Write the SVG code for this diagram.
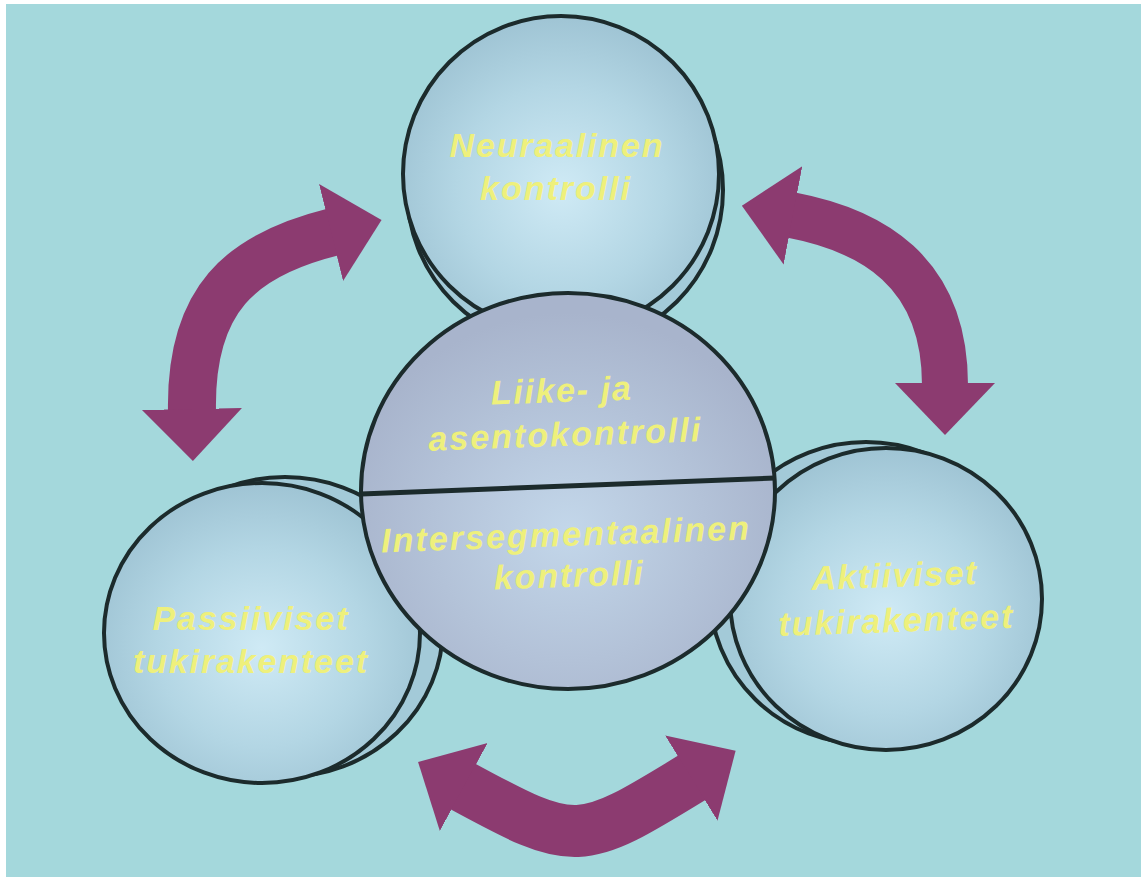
<svg xmlns="http://www.w3.org/2000/svg" width="1141" height="877" viewBox="0 0 1141 877">
<defs>
<style>
.lbl{font-family:"Liberation Sans",Arial,sans-serif;font-weight:bold;font-style:italic;font-size:34px;fill:#eef07c;text-anchor:middle}
.disc{stroke:#1c2b2c;stroke-width:4}
.front{fill:url(#gBlue)}
.back{fill:#a3cad8}
.arrow{fill:none;stroke:#8c3b70;marker-start:url(#head);marker-end:url(#head)}
</style>
<radialGradient id="gBlue" cx="0.5" cy="0.55" r="0.55">
<stop offset="0" stop-color="#cfeaf5"/>
<stop offset="0.6" stop-color="#b3d6e4"/>
<stop offset="1" stop-color="#9fc4d4"/>
</radialGradient>
<radialGradient id="gCenter" cx="0.5" cy="0.6" r="0.55">
<stop offset="0" stop-color="#c3d7ea"/>
<stop offset="0.6" stop-color="#b3c2d8"/>
<stop offset="1" stop-color="#a8b4cc"/>
</radialGradient>
<marker id="head" markerUnits="userSpaceOnUse" markerWidth="62" markerHeight="110" viewBox="-2 -55 62 110" refX="0" refY="0" orient="auto-start-reverse">
<path d="M-2,-50 L50,0 L-2,50 Z" fill="#8c3b70"/>
</marker>
</defs>
<rect x="0" y="0" width="1141" height="877" fill="#ffffff"/>
<rect x="6" y="4" width="1135" height="873" fill="#a4d8dc"/>

<g id="connectors">
<path class="arrow" stroke-width="48" d="M192,411 C190,300 240,255 333,232"/>
<path class="arrow" stroke-width="46" d="M791,215 C870,230 945,270 945,385"/>
<path class="arrow" stroke-width="52" d="M462,786 C576,848 579,847 693,777"/>
</g>

<g id="node-neuraalinen">
<ellipse class="disc back" cx="565" cy="190" rx="158" ry="158"/>
<ellipse class="disc front" cx="561" cy="174" rx="158" ry="158"/>
<text class="lbl" x="556" y="157" textLength="213">Neuraalinen</text>
<text class="lbl" x="555" y="200" textLength="150">kontrolli</text>
</g>

<g id="node-passiiviset">
<ellipse class="disc back" cx="285" cy="627" rx="158" ry="150"/>
<ellipse class="disc front" cx="262" cy="633" rx="158" ry="150"/>
<text class="lbl" x="250" y="630" textLength="195">Passiiviset</text>
<text class="lbl" x="250" y="673" textLength="234">tukirakenteet</text>
</g>

<g id="node-aktiiviset">
<ellipse class="disc back" cx="866" cy="593" rx="156" ry="151"/>
<ellipse class="disc front" cx="886" cy="599" rx="156" ry="151"/>
<g transform="rotate(-2 895 610)">
<text class="lbl" x="895" y="587" textLength="165">Aktiiviset</text>
<text class="lbl" x="895" y="632" textLength="234">tukirakenteet</text>
</g>
</g>

<g id="node-center">
<ellipse class="disc" fill="url(#gCenter)" cx="568" cy="491" rx="207" ry="198"/>
<line x1="361" y1="494" x2="775" y2="478" stroke="#1c2b2c" stroke-width="5"/>
<g transform="rotate(-2 565 425)">
<text class="lbl" x="562" y="402" textLength="140">Liike- ja</text>
<text class="lbl" x="564" y="446" textLength="272">asentokontrolli</text>
</g>
<g transform="rotate(-2 566 565)">
<text class="lbl" x="566" y="546" textLength="368">Intersegmentaalinen</text>
<text class="lbl" x="568" y="587" textLength="149">kontrolli</text>
</g>
</g>
</svg>
